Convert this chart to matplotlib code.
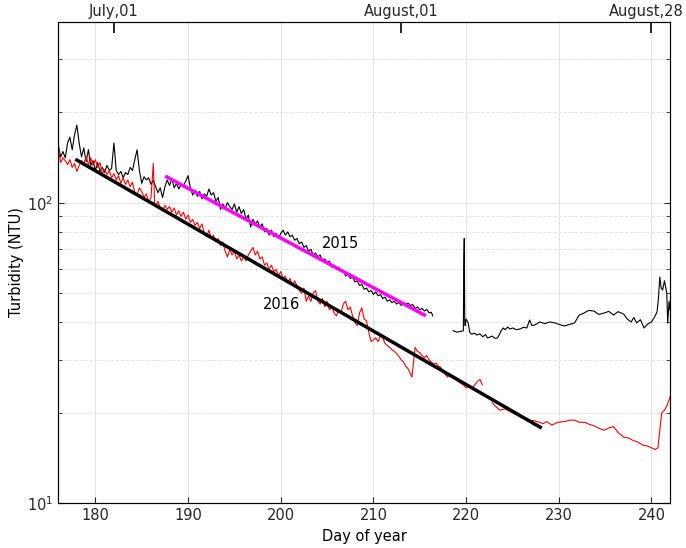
import numpy as np
import matplotlib
matplotlib.use("Agg")
import matplotlib.pyplot as plt
import matplotlib.transforms as mtransforms

plt.rcParams['font.family'] = 'DejaVu Sans'
plt.rcParams['font.size'] = 10.5

# turbidity 2015 (black), day of year / NTU, NaN = gap in record
day_2015 = list(np.arange(176.0, 216.3, 0.25)) + [216.4, 217.5,
            218.6, 219.0, 219.4, 219.7, 219.75, 219.8, 219.85, 219.9, 220.0, 220.2,
            220.4, 220.6, 220.9, 221.15, 221.5, 221.8, 222.1, 222.3, 222.55, 222.8,
            223.1, 223.4, 223.6, 223.8, 224.0, 224.2, 224.5, 224.7, 225.05, 225.4,
            225.8, 226.2, 226.55, 226.85, 227.1, 227.4, 227.95, 228.5, 229.0, 229.6,
            230.1, 230.6, 231.2, 231.7, 232.2, 232.7, 233.2, 233.8, 234.3, 234.85,
            235.4, 235.9, 236.4, 237.0, 237.4, 237.8, 238.1, 238.4, 238.8, 239.2,
            239.6, 240.0, 240.3, 240.6, 240.75, 240.9, 241.05, 241.2, 241.4, 241.65,
            241.75, 241.9, 242.0]
ntu_2015 = [155, 142, 148, 141, 158, 165, 150, 168, 181, 158,
            142, 152, 137, 150, 133, 138, 128, 136, 127, 131,
            126, 133, 128, 130, 158, 128, 124, 127, 121, 126,
            124, 131, 128, 139, 150, 128, 116, 122, 119, 121,
            115, 119, 113, 108, 112, 104, 113, 119, 114, 120,
            112, 116, 111, 115, 114, 118, 123, 112, 106, 110,
            105, 109, 103, 107, 105, 111, 106, 108, 101, 104,
            95, 99, 96, 100, 97, 95, 99, 93, 97, 92,
            95, 88, 91, 83, 88, 85, 87, 83, 85, 80,
            82, 78, 81, 77, 79, 76, 79, 81, 78, 80,
            77, 78, 75, 76, 73, 74, 71, 72, 69, 70,
            67, 68, 66, 67, 64, 65, 63, 64, 61, 62,
            60, 61, 59, 59.5, 57, 58, 56, 56.5, 54.5, 55,
            53, 53.5, 51.5, 52, 50.5, 51, 49.5, 50.5, 49, 49.5,
            48, 48.5, 47, 47.5, 46.5, 47, 46, 46.5, 45.5, 46.5,
            46, 46.3, 45.5, 45.8, 44.5, 45, 44, 44.5, 43.6, 44.2,
            43, 43.2, 42, np.nan,
            37.5, 37.1, 37.3, 37.5, 62, 76, 40, 39, 41, 40,
            37, 36.5, 36.8, 36.3, 36.6, 35.8, 36.4, 35.5, 35.7, 36.0,
            35.4, 35.5, 36.5, 37.6, 38.3, 37.8, 38.6, 38.0, 38.3, 37.8,
            38.0, 38.5, 38.3, 40.7, 39.0, 39.2, 40.1, 39.6, 40.1, 39.8,
            39.3, 38.9, 39.4, 39.8, 42.3, 42.9, 43.8, 43.6, 42.5, 42.9,
            43.5, 42.3, 43.4, 42.6, 41.0, 40.1, 41.5, 39.8, 40.8, 38.3,
            39.5, 40.1, 41.5, 43.3, 48, 56.6, 52, 51.2, 55, 50.1,
            39.8, 47, 44]

# turbidity 2016 (red)
day_2016 = [176.0, 176.25, 176.5, 176.75, 177.0, 177.25, 177.5, 177.75, 178.0, 178.25,
            178.5, 178.75, 179.0, 179.25, 179.5, 179.75, 180.0, 180.25, 180.5, 180.75,
            181.0, 181.25, 181.5, 181.75, 182.0, 182.25, 182.5, 182.75, 183.0, 183.25,
            183.5, 183.75, 184.0, 184.25, 184.5, 184.75, 185.0, 185.25, 185.5, 185.75,
            186.0, 186.25, 186.4, 186.5, 186.75, 187.0, 187.25, 187.5, 187.75, 188.0,
            188.25, 188.5, 188.75, 189.0, 189.25, 189.5, 189.75, 190.0, 190.25, 190.5,
            190.75, 191.0, 191.25, 191.5, 191.75, 192.0, 192.25, 192.5, 192.75, 193.0,
            193.25, 193.5, 193.75, 194.0, 194.25, 194.5, 194.75, 195.0, 195.25, 195.5,
            195.75, 196.0, 196.25, 196.5, 196.75, 197.0, 197.25, 197.5, 197.75, 198.0,
            198.25, 198.5, 198.75, 199.0, 199.25, 199.5, 199.75, 200.0, 200.25, 200.5,
            200.75, 201.0, 201.25, 201.5, 201.75, 202.0, 202.25, 202.5, 202.75, 203.0,
            203.25, 203.5, 203.75, 204.0, 204.25, 204.5, 204.75, 205.0, 205.25, 205.5,
            205.75, 206.0, 206.25, 206.5, 206.75, 207.0, 207.25, 207.5, 207.75, 208.0,
            208.25, 208.5, 208.75, 209.0, 209.25, 209.5, 209.75, 210.0, 210.25, 210.5,
            210.75, 211.0, 211.25, 211.5, 211.75, 212.0, 212.25, 212.5, 212.75, 213.0,
            213.25, 213.5, 213.75, 214.0, 214.15, 214.35, 214.5, 214.75, 215.0, 215.25,
            215.5, 215.75, 216.0, 216.25, 216.5, 216.75, 217.0, 217.25, 217.5, 217.75,
            218.0, 218.25, 218.5, 218.75, 219.0, 219.25, 219.5, 219.75, 220.0, 220.25,
            220.5, 220.75, 221.0, 221.25, 221.5, 221.75,
            222.3,
            222.8, 223.2, 223.65, 224.2, 224.75, 225.3, 225.8, 226.3, 226.85, 227.4,
            227.9, 228.3, 228.7, 229.25, 229.9, 230.6, 231.2, 231.7, 232.2, 232.8,
            233.3, 233.8, 234.3, 234.85, 235.4, 235.9, 236.4, 237.0, 237.5, 238.0,
            238.5, 239.1, 239.6, 240.0, 240.4, 240.7, 240.9, 241.1, 241.4, 241.7,
            242.0]
ntu_2016 = [152, 136, 141, 138, 134, 139, 131, 135, 127, 133,
            138, 135, 142, 134, 141, 133, 139, 131, 136, 125,
            129, 124, 128, 121, 125, 119, 123, 116, 121, 115,
            119, 113, 117, 108, 106, 112, 109, 104, 107, 100,
            104, 135, 98, 97, 101, 96, 94, 98, 95, 97,
            93, 96, 91, 94, 90, 93, 88, 91, 86, 88,
            84, 86, 82, 85, 79, 77, 81, 76, 78, 74,
            76, 72, 74, 69, 66, 70, 67, 69, 65, 67,
            64, 66, 64, 67, 69, 71, 67, 69, 65, 66,
            62, 63, 60, 62, 59, 60, 57, 59, 56, 57,
            54, 56, 53, 55, 53, 51, 50, 52, 47, 49,
            47, 50, 51, 47, 46, 48, 45, 47, 44, 45,
            43, 42, 44, 43, 46, 47, 44, 45, 42, 40,
            39, 43, 44.7, 41, 40.5, 37, 34.5, 35, 35.5, 34.5,
            36, 35.5, 34, 33.5, 33, 32.4, 32, 31.5, 30.8, 30,
            29.5, 28.5, 28, 27, 26.3, 30, 33, 32, 31.7, 31,
            30.5, 31, 30, 29.5, 29, 29.3, 28.6, 28.4, 27.5, 26.8,
            26.3, 26.8, 26.3, 26, 25.6, 25.3, 25, 24.7, 24.2, 24.5,
            24.2, 24.4, 24.9, 25.5, 25.8, 24.8,
            np.nan,
            21.6, 21.0, 20.4, 20.6, 20.2, 19.8, 19.4, 19.3, 18.9, 18.8,
            18.6, 18.4, 18.7, 18.2, 18.6, 18.7, 18.9, 18.9, 18.6, 18.6,
            18.3, 18.1, 17.8, 17.5, 17.8, 18.0, 17.2, 16.6, 16.5, 16.2,
            16.0, 15.6, 15.5, 15.3, 15.1, 15.3, 17.5, 20.0, 20.4, 21.2,
            22.6]

# exponential fits
fit_2016_day = [178.0, 228.0]
fit_2016_ntu = [138.6, 17.9]
fit_2015_day = [187.7, 215.5]
fit_2015_ntu = [121.8, 42.3]

month_days = [182, 213, 240]
month_labels = ['July,01', 'August,01', 'August,28']

fig = plt.figure(figsize=(6.86, 5.48), dpi=100)
ax = fig.add_axes([0.085, 0.0816, 0.8917, 0.8788])

ax.plot(day_2015, ntu_2015, color='black', lw=0.8)
ax.plot(day_2016, ntu_2016, color='red', lw=0.8)
ax.plot(fit_2016_day, fit_2016_ntu, color='black', lw=2.5)
ax.plot(fit_2015_day, fit_2015_ntu, color='magenta', lw=2.5)

ax.text(206.5, 72.9, '2015', ha='center', va='center', fontsize=10.5)
ax.text(200.1, 45.7, '2016', ha='center', va='center', fontsize=10.5)

ax.set_yscale('log')
ax.set_xlim(176, 242)
ax.set_ylim(10, 400)
ax.set_xticks([180, 190, 200, 210, 220, 230, 240])
ax.set_xlabel('Day of year', labelpad=4)
ax.set_ylabel('Turbidity (NTU)', labelpad=2)

ax.grid(True, which='major', color='#e3e3e3', lw=0.7)
ax.grid(True, which='minor', axis='y', color='#e3e3e3', lw=0.7, ls='--')
ax.set_axisbelow(True)
ax.tick_params(which='both', direction='in', top=True, right=True,
               colors='#262626', labelcolor='#262626')
ax.tick_params(which='major', length=4)
ax.tick_params(which='minor', length=3)
ax.tick_params(axis='y', which='minor', labelleft=False)
for s in ax.spines.values():
    s.set_color('#262626')
    s.set_linewidth(0.8)

ax2 = ax.twiny()
ax2.set_xlim(ax.get_xlim())
ax2.set_xticks(month_days, month_labels)
ax2.tick_params(direction='in', length=8, width=1.2, color='black', pad=2,
                labelcolor='#262626')
# keep the last month label inside the figure
last = ax2.get_xticklabels()[-1]
last.set_transform(last.get_transform() + mtransforms.ScaledTranslation(-5 / 100, 0, fig.dpi_scale_trans))

fig.savefig('out.png', dpi=100)
